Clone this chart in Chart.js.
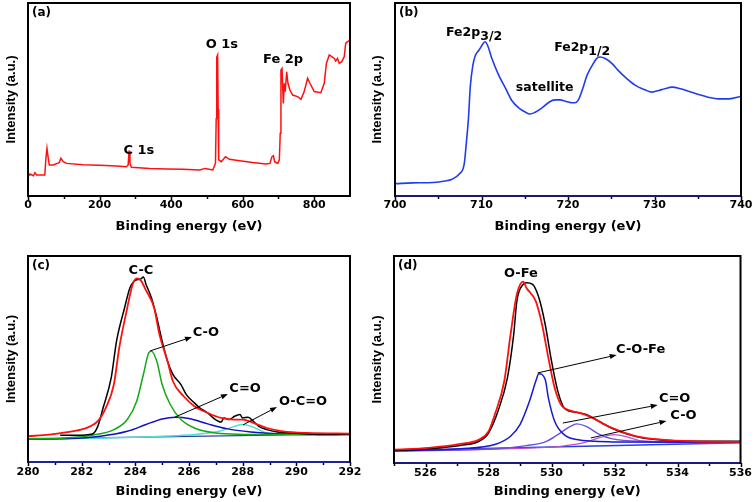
<!DOCTYPE html>
<html><head><meta charset="utf-8">
<script src="https://cdn.jsdelivr.net/npm/chart.js@4.4.0/dist/chart.umd.min.js"></script>
<style>
html,body{margin:0;padding:0;background:#fff;}
#wrap{position:relative;width:756px;height:502px;overflow:hidden;background:#fff;}
canvas{position:absolute;}
</style></head><body>
<div id="wrap">
<canvas id="pa" width="366" height="251" style="left:0;top:0"></canvas>
<canvas id="pb" width="390" height="251" style="left:366px;top:0"></canvas>
<canvas id="pc" width="366" height="251" style="left:0;top:251px"></canvas>
<canvas id="pd" width="390" height="251" style="left:366px;top:251px"></canvas>
</div>
<script>
// ---------- (a) survey ----------
const surveyEnergy = [0,5.6,15,19.5,24,47,50,53,56,59.5,70.6,87,92,98.5,108,154,200.7,247,275,280,282.5,285,289,340,386.5,433,479.5,495,516.6,524,526,527.5,530,531.5,533,540,552,563,591,628,665,676,682,686,689.5,698,702.5,705,707,710,713.6,716.4,719,723,726.6,732,739.6,753.6,763,772,781.5,788,800,818.6,828,834,842,849,856,860,865,870,877,884,888,893,897.6];
const surveyIntensity = [10.0,11.4,10.5,12.1,10.9,10.9,19.5,24.7,20.4,16.1,16.1,17.3,19.5,17.8,16.9,16.2,15.9,15.5,15.2,16.1,23.5,16.9,14.9,14.3,14.0,13.8,13.5,14.3,13.5,16.9,40,72,73.1,45,18.7,17.8,20.4,19.0,18.3,17.3,16.6,16.9,20.4,20.9,17.8,16.9,18.7,32.5,65.3,66.1,48.0,58.4,54.1,64.4,58.4,54.9,52.3,51.5,50.1,54.1,61.0,58.4,54.1,53.5,58.4,68.7,73.1,72.2,71.3,69.9,71.3,68.7,69.6,72.2,79.1,80.0,80.5];
const surveyTicks = [0,200,400,600,800];
const surveyMinor = [100,300,500,700];

// ---------- (b) Fe 2p ----------
const fe2pEnergy = [700.1,702,703.9,705.8,706.6,707.4,708,708.2,708.5,708.7,709,709.3,709.7,710.2,710.4,710.7,711.2,712,712.8,713.5,714.3,715.1,715.6,716.2,717,717.8,718.5,719.1,719.7,720.3,720.8,721.2,721.7,722.2,722.8,723.3,723.7,724.3,725.1,725.8,726.8,727.8,728.9,729.7,730.5,731.2,732,733,733.9,735.1,736.2,737.4,738.5,739.9];
const fe2pIntensity = [6.4,6.8,6.9,7.8,8.7,11.3,16.5,25.2,40.8,56.4,67.7,72.9,75.5,79.0,79.9,78.1,71.2,62.5,55.6,49.5,45.7,43.4,42.5,43.4,45.7,48.6,49.8,49.8,49.1,48.4,48.3,49.8,55.6,62.5,67.7,71.2,72.0,71.2,68.6,65.1,60.8,57.3,55.0,53.8,54.7,55.6,56.4,55.6,54.3,52.6,51.2,50.3,50.3,51.6];
const fe2pTicks = [700,710,720,730,740];
const fe2pMinor = [705,715,725,735];

// ---------- (c) C 1s ----------
const c1sRawE = [281.2,281.8,282.4,282.6,282.8,283.1,283.3,283.6,283.8,284.0,284.2,284.3,284.4,284.6,284.8,285.0,285.2,285.4,285.7,285.9,286.2,286.4,286.7,286.9,287.2,287.3,287.5,287.7,287.9,288.0,288.2,288.4,288.6,288.9,289.3,289.8,290.4,291.1,292];
const c1sRawI = [13.0,13.0,13.6,17.3,26.3,40.8,58.7,74.9,84.6,88.2,88.8,89.8,86.2,79.7,70.0,58.7,48.9,42.5,37.6,32.7,28.7,26.3,23.8,21.4,19.4,21.4,20.6,22.2,23.0,21.4,21.7,19.8,17.3,15.7,14.6,14.1,13.6,13.3,13.6];
const c1sFitE = [280,280.8,281.4,282.1,282.6,282.9,283.2,283.4,283.7,283.9,284.05,284.2,284.4,284.7,284.9,285.2,285.4,285.8,286.2,286.7,287.2,287.7,288.0,288.4,288.9,289.5,290.4,292];
const c1sFitI = [12.5,13.3,14.4,16.2,19.8,26.3,37.6,55.4,74.9,86.2,89.1,88.2,83.3,74.9,61.9,48.9,39.2,31.9,27.1,23.8,21.4,20.6,20.6,19.0,16.5,14.9,14.1,13.8];
const cCOE = [280,281.4,282.4,283.2,283.7,284.05,284.3,284.5,284.6,284.8,285.0,285.3,285.7,286.2,287.0,288.9,292];
const cCOI = [11.3,11.7,13.0,15.7,20.6,29.5,42.5,53.0,53.8,48.9,37.6,27.9,20.6,16.5,14.1,13.3,13.3];
const cC2OE = [280,281.4,282.7,283.7,284.4,285.0,285.5,286.0,286.7,287.4,288.3,289.5,292];
const cC2OI = [11.2,11.3,12.5,14.9,18.2,20.9,21.7,21.1,18.5,16.2,14.6,13.6,13.3];
const cOCOE = [280,283.9,286.4,287.2,287.7,288.0,288.4,288.9,290.1,292];
const cOCOI = [11.2,12.0,13.6,15.2,17.3,18.2,16.9,14.1,13.3,13.3];
const cBaseE = [280,292];
const cBaseI = [11.2,13.6];
const c1sTicks = [280,282,284,286,288,290,292];
const c1sMinor = [281,283,285,287,289,291];

// ---------- (d) O 1s ----------
const o1sRawE = [525,526.1,527.1,527.7,528.0,528.3,528.6,528.8,528.9,529.1,529.2,529.4,529.6,529.8,530.0,530.2,530.4,530.6,530.8,531.1,531.5,531.9,532.4,532.9,533.5,534.5,536];
const o1sRawI = [6.0,6.9,8.5,10.5,14.5,25.0,41.1,62.1,78.2,86.3,87.1,86.3,79.8,66.9,49.2,34.7,26.6,25.0,24.5,23.4,20.2,16.9,14.0,12.1,11.1,10.5,10.5];
const o1sFitE = [525,526.1,527.1,527.7,528.0,528.2,528.5,528.7,528.9,529.1,529.2,529.5,529.7,529.9,530.1,530.3,530.6,530.9,531.3,531.7,532.2,532.7,533.5,534.5,536];
const o1sFitI = [6.5,7.3,9.2,11.3,15.3,23.4,39.5,62.1,81.5,87.6,84.7,78.2,66.9,50.8,36.3,28.2,25.3,24.2,21.8,18.5,15.3,12.9,11.3,10.5,10.2];
const dCOFeE = [525,527.1,528.2,528.7,529.0,529.3,529.5,529.6,529.8,529.9,530.1,530.4,530.8,531.9,536];
const dCOFeI = [6.0,6.9,8.9,12.9,18.5,29.8,39.5,43.1,40.3,31.5,20.2,13.7,11.3,10.2,10.0];
const dC2OE = [525,528.2,529.2,529.8,530.2,530.6,530.8,531.1,531.5,531.9,533.0,536];
const dC2OI = [6.0,6.9,8.4,10.2,13.7,17.7,18.9,17.7,14.0,11.8,10.5,10.0];
const dCOE = [525,528.7,530.3,531.0,531.5,532.0,532.4,532.8,533.5,536];
const dCOI = [5.6,6.9,8.1,9.7,12.1,13.7,12.6,10.8,10.0,9.8];
const dBaseE = [525,536];
const dBaseI = [6.0,9.8];
const o1sTicks = [526,528,530,532,534,536];
const o1sMinor = [525,527,529,531,533,535];

const FONT = 'DejaVu Sans';

function decor(cfg) {
  return {
    id: 'decor',
    afterDatasetsDraw(chart) {
      const {ctx, chartArea: ca, scales: {x, y}} = chart;
      ctx.save();
      ctx.strokeStyle = '#000';
      ctx.lineWidth = 1.5;
      cfg.ticks.forEach(v => {
        const px = Math.round(x.getPixelForValue(v)) + 0.5;
        ctx.beginPath(); ctx.moveTo(px, ca.bottom); ctx.lineTo(px, ca.bottom + 4); ctx.stroke();
      });
      cfg.minor.forEach(v => {
        const px = Math.round(x.getPixelForValue(v)) + 0.5;
        ctx.beginPath(); ctx.moveTo(px, ca.bottom); ctx.lineTo(px, ca.bottom + 3); ctx.stroke();
      });
      ctx.lineWidth = 2;
      ctx.strokeStyle = '#000';
      ctx.strokeRect(ca.left, ca.top, ca.right - ca.left, ca.bottom - ca.top);
      if (cfg.bottomColor) {
        ctx.strokeStyle = cfg.bottomColor;
        ctx.beginPath(); ctx.moveTo(ca.left + 1, ca.bottom); ctx.lineTo(ca.right - 1, ca.bottom); ctx.stroke();
      }
      ctx.fillStyle = '#000';
      ctx.font = 'bold 12px "' + FONT + '"';
      ctx.textAlign = 'left'; ctx.textBaseline = 'middle';
      ctx.fillText(cfg.label, ca.left + 4, ca.top + 10);
      (cfg.notes || []).forEach(n => {
        const px = x.getPixelForValue(n.x), py = y.getPixelForValue(n.y);
        ctx.font = 'bold ' + (n.size || 13) + 'px "' + FONT + '"';
        if (n.sub) {
          ctx.textAlign = 'left'; ctx.textBaseline = 'alphabetic';
          ctx.fillText(n.t, px, py);
          const w = ctx.measureText(n.t).width;
          ctx.font = 'bold ' + (n.subSize || 12) + 'px "' + FONT + '"';
          ctx.fillText(n.sub, px + w, py + 4);
        } else {
          ctx.textAlign = 'center'; ctx.textBaseline = 'middle';
          ctx.fillText(n.t, px, py);
        }
      });
      (cfg.arrows || []).forEach(a => {
        const x1 = x.getPixelForValue(a.x1), y1 = y.getPixelForValue(a.y1);
        const x2 = x.getPixelForValue(a.x2), y2 = y.getPixelForValue(a.y2);
        const ang = Math.atan2(y2 - y1, x2 - x1);
        const L = 7, W = 2.6;
        ctx.strokeStyle = '#000'; ctx.lineWidth = 1;
        ctx.beginPath(); ctx.moveTo(x1, y1);
        ctx.lineTo(x2 - L * Math.cos(ang), y2 - L * Math.sin(ang)); ctx.stroke();
        ctx.beginPath();
        ctx.moveTo(x2, y2);
        ctx.lineTo(x2 - L * Math.cos(ang) + W * Math.sin(ang), y2 - L * Math.sin(ang) - W * Math.cos(ang));
        ctx.lineTo(x2 - L * Math.cos(ang) - W * Math.sin(ang), y2 - L * Math.sin(ang) + W * Math.cos(ang));
        ctx.closePath(); ctx.fillStyle = '#000'; ctx.fill();
      });
      ctx.restore();
    }
  };
}

function makePanel(id, cfg) {
  const canvas = document.getElementById(id);
  const W = canvas.width, H = canvas.height, g = cfg.geom;
  new Chart(canvas, {
    type: 'line',
    data: {
      datasets: cfg.series.map(s => ({
        data: s.x.map((v, i) => ({x: v, y: s.y[i]})),
        borderColor: s.color, borderWidth: s.width || 1.5,
        pointRadius: 0, fill: false,
        cubicInterpolationMode: cfg.smooth ? 'monotone' : 'default',
        tension: cfg.smooth ? 0.4 : 0
      }))
    },
    options: {
      responsive: false, animation: false, devicePixelRatio: 1,
      layout: {padding: {left: 0, top: g.top, right: W - g.right, bottom: 0}},
      plugins: {legend: {display: false}, tooltip: {enabled: false}},
      scales: {
        x: {
          type: 'linear', min: cfg.min, max: cfg.max,
          afterBuildTicks: s => { s.ticks = cfg.ticks.map(v => ({value: v})); },
          afterFit: s => { s.height = H - g.bottom; },
          grid: {display: false, drawTicks: false}, border: {display: false},
          ticks: {font: {family: FONT, weight: 'bold', size: 11}, color: '#000', padding: g.tickPad,
                  autoSkip: false, maxRotation: 0, callback: v => String(v)},
          title: {display: true, text: 'Binding energy (eV)', color: '#000',
                  font: {family: FONT, weight: 'bold', size: 13}, padding: {top: 0, bottom: g.titlePad}}
        },
        y: {
          min: 0, max: 100,
          afterFit: s => { s.width = g.left; },
          ticks: {display: false}, grid: {display: false, drawTicks: false}, border: {display: false},
          title: {display: true, text: 'Intensity (a.u.)', color: '#000',
                  font: {family: 'Liberation Sans', weight: 'bold', size: 13}, padding: {top: 4, bottom: 0}}
        }
      }
    },
    plugins: [decor(cfg)]
  });
}

makePanel('pa', {
  geom: {left: 28, right: 350, top: 3, bottom: 196, tickPad: 3, titlePad: 17},
  min: 0, max: 900, ticks: surveyTicks, minor: surveyMinor, label: '(a)', smooth: false,
  series: [{x: surveyEnergy, y: surveyIntensity, color: '#ff1010', width: 1.5}],
  notes: [{t: 'C 1s', x: 310, y: 23.3}, {t: 'O 1s', x: 542, y: 78.2}, {t: 'Fe 2p', x: 713, y: 70.5}]
});

makePanel('pb', {
  geom: {left: 29, right: 375, top: 3, bottom: 196, tickPad: 3, titlePad: 17},
  min: 700, max: 740, ticks: fe2pTicks, minor: fe2pMinor, label: '(b)', bottomColor: '#1a1a70', smooth: true,
  series: [{x: fe2pEnergy, y: fe2pIntensity, color: '#1f3cf0', width: 1.6}],
  notes: [
    {t: 'Fe2p', sub: '3/2', x: 705.9, y: 83.1, size: 12.5, subSize: 12.5},
    {t: 'satellite', x: 717.3, y: 56, size: 12.5},
    {t: 'Fe2p', sub: '1/2', x: 718.4, y: 75.3, size: 12.5, subSize: 12.5}
  ]
});

makePanel('pc', {
  geom: {left: 28, right: 350, top: 5, bottom: 211, tickPad: 4, titlePad: 2.5},
  min: 280, max: 292, ticks: c1sTicks, minor: c1sMinor, label: '(c)', bottomColor: '#20209a', smooth: true,
  series: [
    {x: c1sFitE, y: c1sFitI, color: '#ff1010', width: 1.8},
    {x: c1sRawE, y: c1sRawI, color: '#000000', width: 1.5},
    {x: cCOE, y: cCOI, color: '#14a814', width: 1.5},
    {x: cC2OE, y: cC2OI, color: '#1010c0', width: 1.5},
    {x: cOCOE, y: cOCOI, color: '#50e0d0', width: 1.5},
    {x: cBaseE, y: cBaseI, color: '#2a3ab0', width: 1.2}
  ],
  notes: [
    {t: 'C-C', x: 284.21, y: 92.7}, {t: 'C-O', x: 286.63, y: 62.6},
    {t: 'C=O', x: 288.09, y: 35.4}, {t: 'O-C=O', x: 290.25, y: 29.1}
  ],
  arrows: [
    {x1: 284.55, y1: 53.9, x2: 286.11, y2: 60.7},
    {x1: 285.48, y1: 21.8, x2: 287.45, y2: 33.0},
    {x1: 288.01, y1: 18.0, x2: 289.28, y2: 26.7}
  ]
});

makePanel('pd', {
  geom: {left: 28, right: 375, top: 5, bottom: 212, tickPad: 4, titlePad: 2.5},
  min: 525, max: 536, ticks: o1sTicks, minor: o1sMinor, label: '(d)', bottomColor: '#1a1a80', smooth: true,
  series: [
    {x: o1sFitE, y: o1sFitI, color: '#ff1010', width: 1.8},
    {x: o1sRawE, y: o1sRawI, color: '#000000', width: 1.5},
    {x: dCOFeE, y: dCOFeI, color: '#1818d0', width: 1.5},
    {x: dC2OE, y: dC2OI, color: '#6a50e0', width: 1.4},
    {x: dCOE, y: dCOI, color: '#c050c8', width: 1.2},
    {x: dBaseE, y: dBaseI, color: '#2a40d8', width: 1.5}
  ],
  notes: [
    {t: 'O-Fe', x: 529.03, y: 91.3}, {t: 'C-O-Fe', x: 532.83, y: 54.6},
    {t: 'C=O', x: 533.91, y: 30.9}, {t: 'C-O', x: 534.19, y: 22.7}
  ],
  arrows: [
    {x1: 529.56, y1: 43.5, x2: 532.07, y2: 52.2},
    {x1: 530.36, y1: 19.3, x2: 533.37, y2: 28.0},
    {x1: 531.25, y1: 12.1, x2: 533.65, y2: 20.3}
  ]
});
</script>
</body></html>
